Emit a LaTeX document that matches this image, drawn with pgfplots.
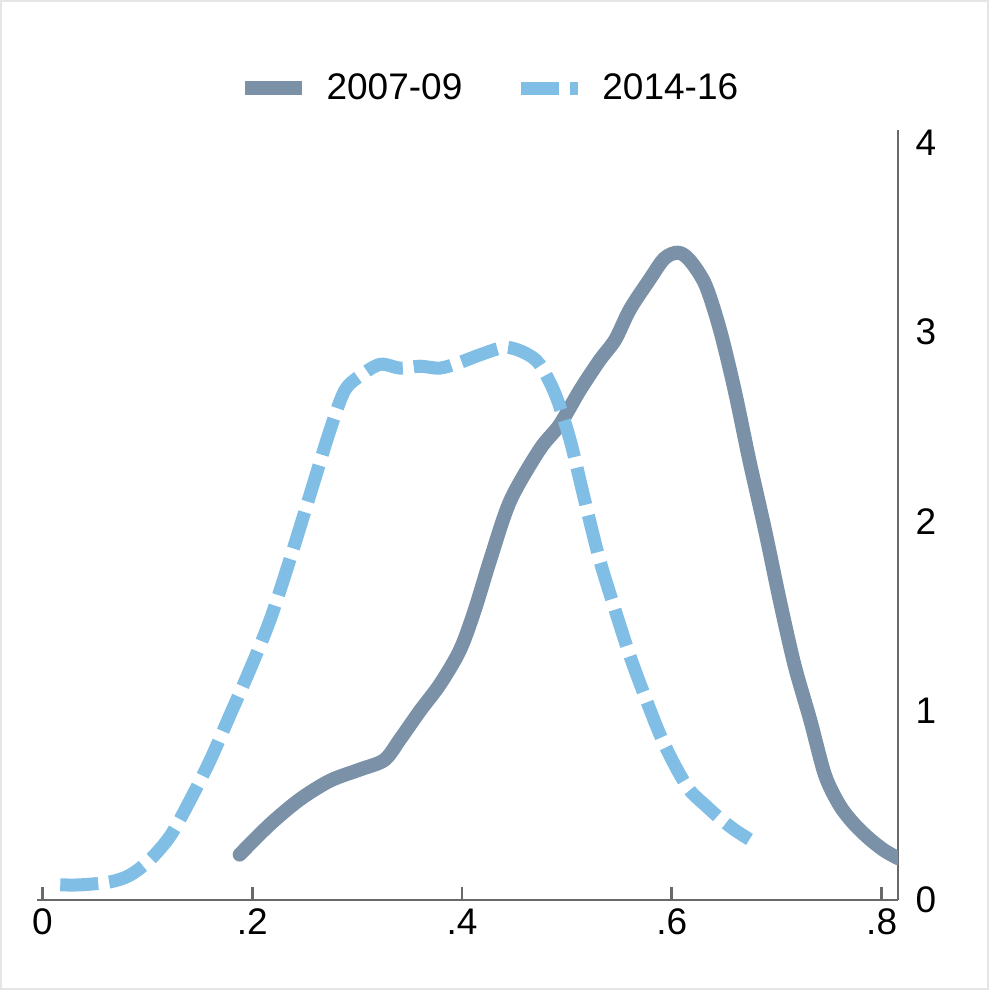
\documentclass[border=0pt]{standalone}
\usepackage{pgfplots}
\pgfplotsset{compat=1.18}
\usepackage{fontspec}
\setmainfont{Liberation Sans}
\definecolor{darkser}{RGB}{122,145,168}
\definecolor{lightser}{RGB}{128,190,230}
\definecolor{axisgray}{RGB}{105,105,105}
\begin{document}
\begin{tikzpicture}
\path[use as bounding box] (0,0) rectangle (494.5pt,495pt);
\draw[black!10, line width=0.8pt] (0.6pt,0.6pt) rectangle (493.9pt,494.4pt);
\begin{axis}[
  at={(18.5pt,45pt)}, anchor=south west,
  scale only axis, width=430.5pt, height=385pt,
  xmin=-0.0052, xmax=0.8156, ymin=0, ymax=4.068,
  axis x line=bottom, axis y line=right,
  axis line style={draw=axisgray, line width=1.4pt, -},
  every outer x axis line/.append style={-},
  every outer y axis line/.append style={-},
  xtick={0,0.2,0.4,0.6,0.8}, xticklabels={0,.2,.4,.6,.8},
  ytick={0,1,2,3,4}, yticklabels={0,1,2,3,4},
  x tick style={draw=axisgray, line width=1.4pt},
  xtick align=inside, major tick length=6.5pt,
  y tick style={draw=none},
  /pgf/number format/assume math mode=true,
  tick label style={font=\fontsize{18.5}{21}\selectfont, black},
  yticklabel style={xshift=2pt},
  xticklabel style={yshift=-1pt},
  legend columns=2,
  legend style={at={(axis description cs:0.526,1.0545)}, anchor=center, draw=none, fill=none,
    font=\fontsize{18.5}{21}\selectfont,
    /tikz/every odd column/.append style={column sep=7pt},
    /tikz/every even column/.append style={column sep=24pt}},
  legend image code/.code={\draw[#1, line cap=butt] (0pt,0pt) -- (28.5pt,0pt);},
]
\addplot[darkser, line width=7pt, line cap=round, line join=round, smooth] coordinates {
(0.188,0.24) (0.217,0.40) (0.245,0.53) (0.274,0.63) (0.303,0.69) (0.326,0.74)
(0.341,0.85) (0.360,1.00) (0.379,1.14) (0.398,1.32) (0.412,1.53) (0.427,1.80)
(0.446,2.11) (0.474,2.38) (0.493,2.51) (0.512,2.69) (0.531,2.85) (0.546,2.96)
(0.560,3.12) (0.579,3.28) (0.593,3.39) (0.606,3.42) (0.617,3.38) (0.632,3.25)
(0.646,3.01) (0.660,2.69) (0.674,2.32) (0.689,1.95) (0.703,1.58) (0.717,1.24)
(0.732,0.95) (0.746,0.66) (0.760,0.50) (0.774,0.40) (0.789,0.32) (0.803,0.26) (0.816,0.22)
};
\addlegendentry{2007-09}
\addplot[lightser, line width=6.5pt, dash pattern=on 19pt off 5.5pt, smooth] coordinates {
(0.017,0.08) (0.036,0.08) (0.064,0.095) (0.083,0.13) (0.102,0.21) (0.122,0.34)
(0.141,0.53) (0.160,0.74) (0.179,0.98) (0.198,1.22) (0.217,1.48) (0.236,1.80)
(0.255,2.14) (0.274,2.48) (0.288,2.69) (0.303,2.77) (0.322,2.83) (0.341,2.81)
(0.360,2.82) (0.379,2.81) (0.398,2.84) (0.417,2.88) (0.441,2.92) (0.460,2.89)
(0.474,2.83) (0.489,2.67) (0.503,2.43) (0.517,2.11) (0.531,1.80) (0.546,1.53)
(0.560,1.29) (0.574,1.08) (0.589,0.87) (0.603,0.71) (0.617,0.58) (0.632,0.50)
(0.646,0.43) (0.660,0.37) (0.674,0.32)
};
\addlegendentry{2014-16}
\end{axis}
\end{tikzpicture}
\end{document}
